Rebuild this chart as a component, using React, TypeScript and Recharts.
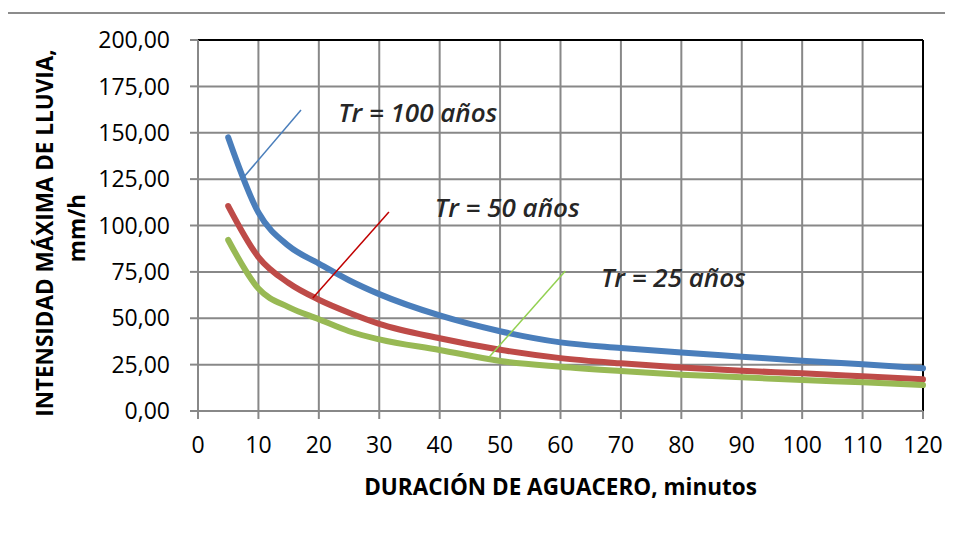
import React from "react";
import {
  LineChart,
  Line,
  XAxis,
  YAxis,
  CartesianGrid,
  ReferenceLine,
  ReferenceDot,
} from "recharts";

// duración (min) and intensidad (mm/h)
const durations = [5, 10, 15, 20, 25, 30, 40, 50, 60, 70, 80, 90, 100, 110, 120];
const tr100 = [147.5, 107, 89, 79.5, 70.5, 63, 51.5, 43, 37, 34, 31.5, 29.3, 27.1, 25.2, 23];
const tr50 = [110.5, 83, 69, 60, 53, 47, 39.2, 33, 28.5, 25.7, 23.5, 21.7, 20.3, 18.7, 17.1];
const tr25 = [92.2, 66, 56, 49.5, 43, 38.6, 32.9, 27, 23.9, 21.6, 19.6, 18.2, 16.7, 15.5, 14];

const xTicks = [0, 10, 20, 30, 40, 50, 60, 70, 80, 90, 100, 110, 120];
const yTicks = [0, 25, 50, 75, 100, 125, 150, 175, 200];

// leader lines from label to curve: [x1, y1, x2, y2]
const leaders = [
  { seg: [7.45, 125.6, 17.05, 162.3], color: "#4a7ebb" },
  { seg: [19.0, 60.9, 31.6, 107.3], color: "#c00000" },
  { seg: [48.2, 29.1, 60.8, 75.5], color: "#92d050" },
];

const labels = [
  { text: "Tr = 100 años", x: 23.2, y: 155.8 },
  { text: "Tr = 50 años", x: 39.2, y: 104.6 },
  { text: "Tr = 25 años", x: 66.7, y: 66.8 },
];

const data = durations.map((d, i) => ({
  d,
  tr100: tr100[i],
  tr50: tr50[i],
  tr25: tr25[i],
}));

const FONT = "'Open Sans', sans-serif";
const GRID = "#888888";

function fmt(v: number) {
  return v.toFixed(2).replace(".", ",");
}

function XLabel({ viewBox }: any) {
  if (!viewBox) return null;
  return (
    <text
      x={viewBox.x + viewBox.width / 2}
      y={viewBox.y + 84}
      textAnchor="middle"
      fontFamily={FONT}
      fontWeight={700}
      fontSize={22.5}
      fill="#000"
    >
      DURACIÓN DE AGUACERO, minutos
    </text>
  );
}

function YLabel() {
  return (
    <g fontFamily={FONT} fontWeight={700} fontSize={22.5} fill="#000">
      <text
        transform="translate(44,233) rotate(-90)"
        textAnchor="middle"
        dominantBaseline="central"
      >
        INTENSIDAD MÁXIMA DE LLUVIA,
      </text>
      <text
        transform="translate(76,228) rotate(-90)"
        textAnchor="middle"
        dominantBaseline="central"
      >
        mm/h
      </text>
    </g>
  );
}

function TrLabel({ viewBox, value }: any) {
  if (!viewBox) return null;
  return (
    <text
      x={viewBox.x + viewBox.width / 2}
      y={viewBox.y + viewBox.height / 2}
      fontFamily={FONT}
      fontStyle="italic"
      fontWeight={600}
      fontSize={26}
      fill="#262626"
    >
      {value}
    </text>
  );
}

export default function App() {
  return (
    <div
      style={{
        position: "relative",
        width: 953,
        height: 536,
        margin: -8,
        overflow: "hidden",
        background: "#fff",
      }}
    >
      <div
        style={{
          position: "absolute",
          left: 6,
          top: 12,
          width: 1200,
          height: 800,
          borderLeft: "2px solid #8c8c8c",
          borderTop: "2px solid #8c8c8c",
        }}
      />
      <div style={{ position: "absolute", left: 0, top: 0 }}>
        <LineChart
          width={953}
          height={536}
          data={data}
          margin={{ top: 40, right: 30, left: 0, bottom: 65 }}
        >
          <CartesianGrid stroke={GRID} strokeWidth={2} />
          <XAxis
            dataKey="d"
            type="number"
            domain={[0, 120]}
            ticks={xTicks}
            height={60}
            tickSize={8}
            tickMargin={18}
            stroke={GRID}
            strokeWidth={2}
            tick={{ fontSize: 23, fill: "#000", fontFamily: FONT }}
            label={<XLabel />}
          />
          <YAxis
            type="number"
            domain={[0, 200]}
            ticks={yTicks}
            width={198}
            tickSize={8}
            tickMargin={20}
            stroke={GRID}
            strokeWidth={2}
            tickFormatter={fmt}
            tick={{ fontSize: 23, fill: "#000", fontFamily: FONT }}
            label={<YLabel />}
          />
          <ReferenceLine y={200} stroke="#000" strokeWidth={2} />
          <ReferenceLine x={120} stroke="#000" strokeWidth={2} />
          <Line
            type="monotone"
            dataKey="tr100"
            stroke="#4a7ebb"
            strokeWidth={6}
            strokeLinecap="round"
            dot={false}
            isAnimationActive={false}
          />
          <Line
            type="monotone"
            dataKey="tr50"
            stroke="#be4b48"
            strokeWidth={6}
            strokeLinecap="round"
            dot={false}
            isAnimationActive={false}
          />
          <Line
            type="monotone"
            dataKey="tr25"
            stroke="#98b954"
            strokeWidth={6}
            strokeLinecap="round"
            dot={false}
            isAnimationActive={false}
          />
          {leaders.map((l, i) => (
            <ReferenceLine
              key={i}
              segment={[
                { x: l.seg[0], y: l.seg[1] },
                { x: l.seg[2], y: l.seg[3] },
              ]}
              stroke={l.color}
              strokeWidth={1.5}
            />
          ))}
          {labels.map((t, i) => (
            <ReferenceDot
              key={i}
              x={t.x}
              y={t.y}
              r={1}
              fill="none"
              stroke="none"
              label={<TrLabel value={t.text} />}
            />
          ))}
        </LineChart>
      </div>
    </div>
  );
}
